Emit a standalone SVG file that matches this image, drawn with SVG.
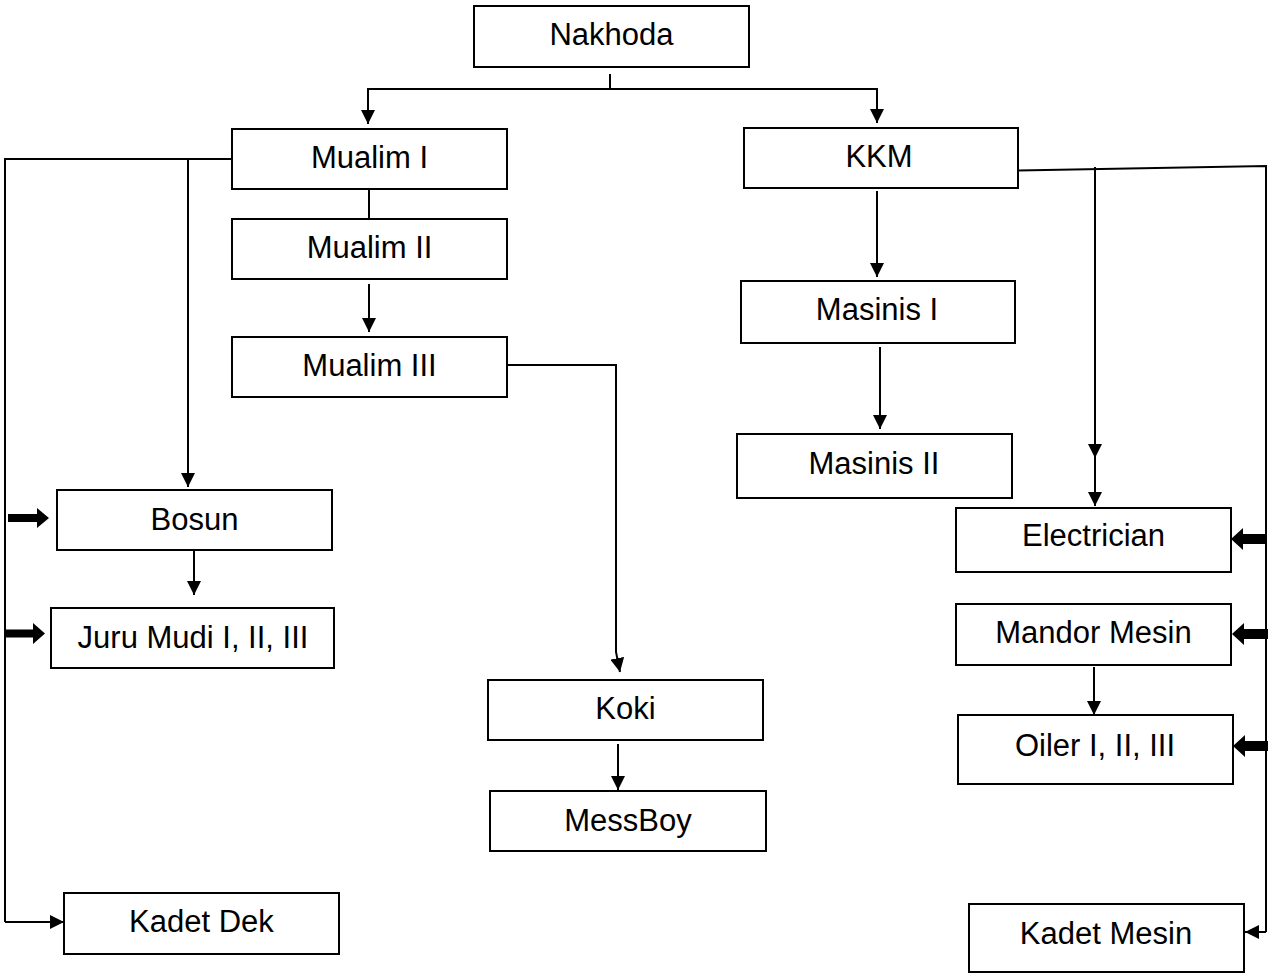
<svg xmlns="http://www.w3.org/2000/svg" width="1268" height="976" viewBox="0 0 1268 976">
<style>
.box{fill:#fff;stroke:#000;stroke-width:2}
.lbl{font-family:"Liberation Sans",Arial,sans-serif;font-size:31px;fill:#000;text-anchor:middle}
.ln{fill:none;stroke:#000;stroke-width:2}
.arr{marker-end:url(#ah)}
.thick{fill:#000;stroke:none}
</style>
<defs>
<marker id="ah" markerUnits="userSpaceOnUse" markerWidth="14" markerHeight="14" refX="14" refY="7" orient="auto">
<path d="M0,0 L14,7 L0,14 z" fill="#000"/>
</marker>
</defs>
<rect width="1268" height="976" fill="#fff"/>
<g id="connectors">
<path class="ln" d="M610,74 V89"/>
<path class="ln arr" d="M610,89 H368 V124"/>
<path class="ln arr" d="M610,89 H877 V123"/>
<path class="ln" d="M232,159 H5 V922"/>
<path class="ln arr" d="M5,922 H64"/>
<path class="ln arr" d="M188,159 V487"/>
<path class="ln" d="M369,189 V219"/>
<path class="ln arr" d="M369,284 V332"/>
<path class="ln arr" d="M506,365 H616 V652 L620,672"/>
<path class="ln arr" d="M618,744 V790"/>
<path class="ln arr" d="M194,548 V595"/>
<polygon class="thick" points="8,514 37,514 37,508 49,518 37,528 37,522 8,522"/>
<polygon class="thick" points="4,629.5 33,629.5 33,623 45,633.5 33,644 33,637.5 4,637.5"/>
<path class="ln arr" d="M877,191 V277"/>
<path class="ln arr" d="M880,347 V429"/>
<path class="ln" d="M1018,170.5 L1266,166 V932"/>
<path class="ln arr" d="M1266,932 H1245"/>
<path class="ln arr" d="M1095,167 V458"/>
<path class="ln arr" d="M1095,455 V506"/>
<path class="ln arr" d="M1094,667 V715"/>
<polygon class="thick" points="1231,539 1243,528 1243,534 1266,534 1266,544 1243,544 1243,550"/>
<polygon class="thick" points="1232,634 1244,623 1244,629 1268,629 1268,639 1244,639 1244,645"/>
<polygon class="thick" points="1233,746 1245,735 1245,741 1268,741 1268,751 1245,751 1245,757"/>
</g>
<g id="n-nakhoda"><rect class="box" x="474" y="6" width="275" height="61"/><text class="lbl" x="611.5" y="45">Nakhoda</text></g>
<g id="n-mualim1"><rect class="box" x="232" y="129" width="275" height="60"/><text class="lbl" x="369.5" y="168">Mualim I</text></g>
<g id="n-mualim2"><rect class="box" x="232" y="219" width="275" height="60"/><text class="lbl" x="369.5" y="258">Mualim II</text></g>
<g id="n-mualim3"><rect class="box" x="232" y="337" width="275" height="60"/><text class="lbl" x="369.5" y="376">Mualim III</text></g>
<g id="n-kkm"><rect class="box" x="744" y="128" width="274" height="60"/><text class="lbl" x="879" y="167">KKM</text></g>
<g id="n-masinis1"><rect class="box" x="741" y="281" width="274" height="62"/><text class="lbl" x="877" y="320">Masinis I</text></g>
<g id="n-masinis2"><rect class="box" x="737" y="434" width="275" height="64"/><text class="lbl" x="874" y="474">Masinis II</text></g>
<g id="n-bosun"><rect class="box" x="57" y="490" width="275" height="60"/><text class="lbl" x="194.5" y="530">Bosun</text></g>
<g id="n-jurumudi"><rect class="box" x="51" y="608" width="283" height="60"/><text class="lbl" x="193" y="648">Juru Mudi I, II, III</text></g>
<g id="n-kadetdek"><rect class="box" x="64" y="893" width="275" height="61"/><text class="lbl" x="201.5" y="932">Kadet Dek</text></g>
<g id="n-koki"><rect class="box" x="488" y="680" width="275" height="60"/><text class="lbl" x="625.5" y="719">Koki</text></g>
<g id="n-messboy"><rect class="box" x="490" y="791" width="276" height="60"/><text class="lbl" x="628" y="831">MessBoy</text></g>
<g id="n-electrician"><rect class="box" x="956" y="508" width="275" height="64"/><text class="lbl" x="1093.5" y="546">Electrician</text></g>
<g id="n-mandor"><rect class="box" x="956" y="604" width="275" height="61"/><text class="lbl" x="1093.5" y="643">Mandor Mesin</text></g>
<g id="n-oiler"><rect class="box" x="958" y="715" width="275" height="69"/><text class="lbl" x="1095" y="756">Oiler I, II, III</text></g>
<g id="n-kadetmesin"><rect class="box" x="969" y="904" width="275" height="68"/><text class="lbl" x="1106" y="944">Kadet Mesin</text></g>
</svg>
